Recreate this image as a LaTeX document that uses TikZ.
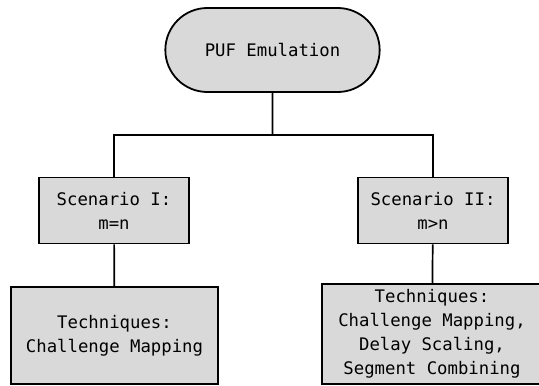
\documentclass[tikz,border=0pt]{standalone}
\usepackage{fontspec}
\setmonofont{DejaVu Sans Mono}
\usetikzlibrary{positioning,shapes.misc}
\tikzset{block/.style={draw,line width=1.8pt,fill=boxgray,align=center,
                       font=\ttfamily\fontsize{17.3}{24}\selectfont},
         pill/.style={block,rounded rectangle,minimum width=221pt,minimum height=84pt},
         line/.style={line width=1.7pt}
}
\definecolor{boxgray}{HTML}{D9D9D9}

\begin{document}
\begin{tikzpicture}[x=1pt,y=1pt]
\useasboundingbox (0,0) rectangle (539,386);

\node[pill] (emu) at (272.5,336) {PUF Emulation};
\node[block,minimum width=150pt,minimum height=66pt] (scenI) at (114,175.5) {Scenario I:\\m=n};
\node[block,minimum width=150pt,minimum height=66pt] (scenII) at (433,175.5) {Scenario II:\\m>n};
\node[block,minimum width=207pt,minimum height=97pt] (techI) at (114.5,50.5) {Techniques:\\Challenge Mapping};
\node[block,minimum width=220pt,minimum height=100pt] (techII) at (432,52) {Techniques:\\Challenge Mapping,\\Delay Scaling,\\Segment Combining};
\coordinate (bus) at (272.5,251);
\draw[line] (emu)--(bus);
\draw[line] (bus)-|(scenI);
\draw[line] (bus)-|(scenII);
\draw[line] (scenI)--(techI);
\draw[line] (scenII)--(techII);

\end{tikzpicture}
\end{document}
